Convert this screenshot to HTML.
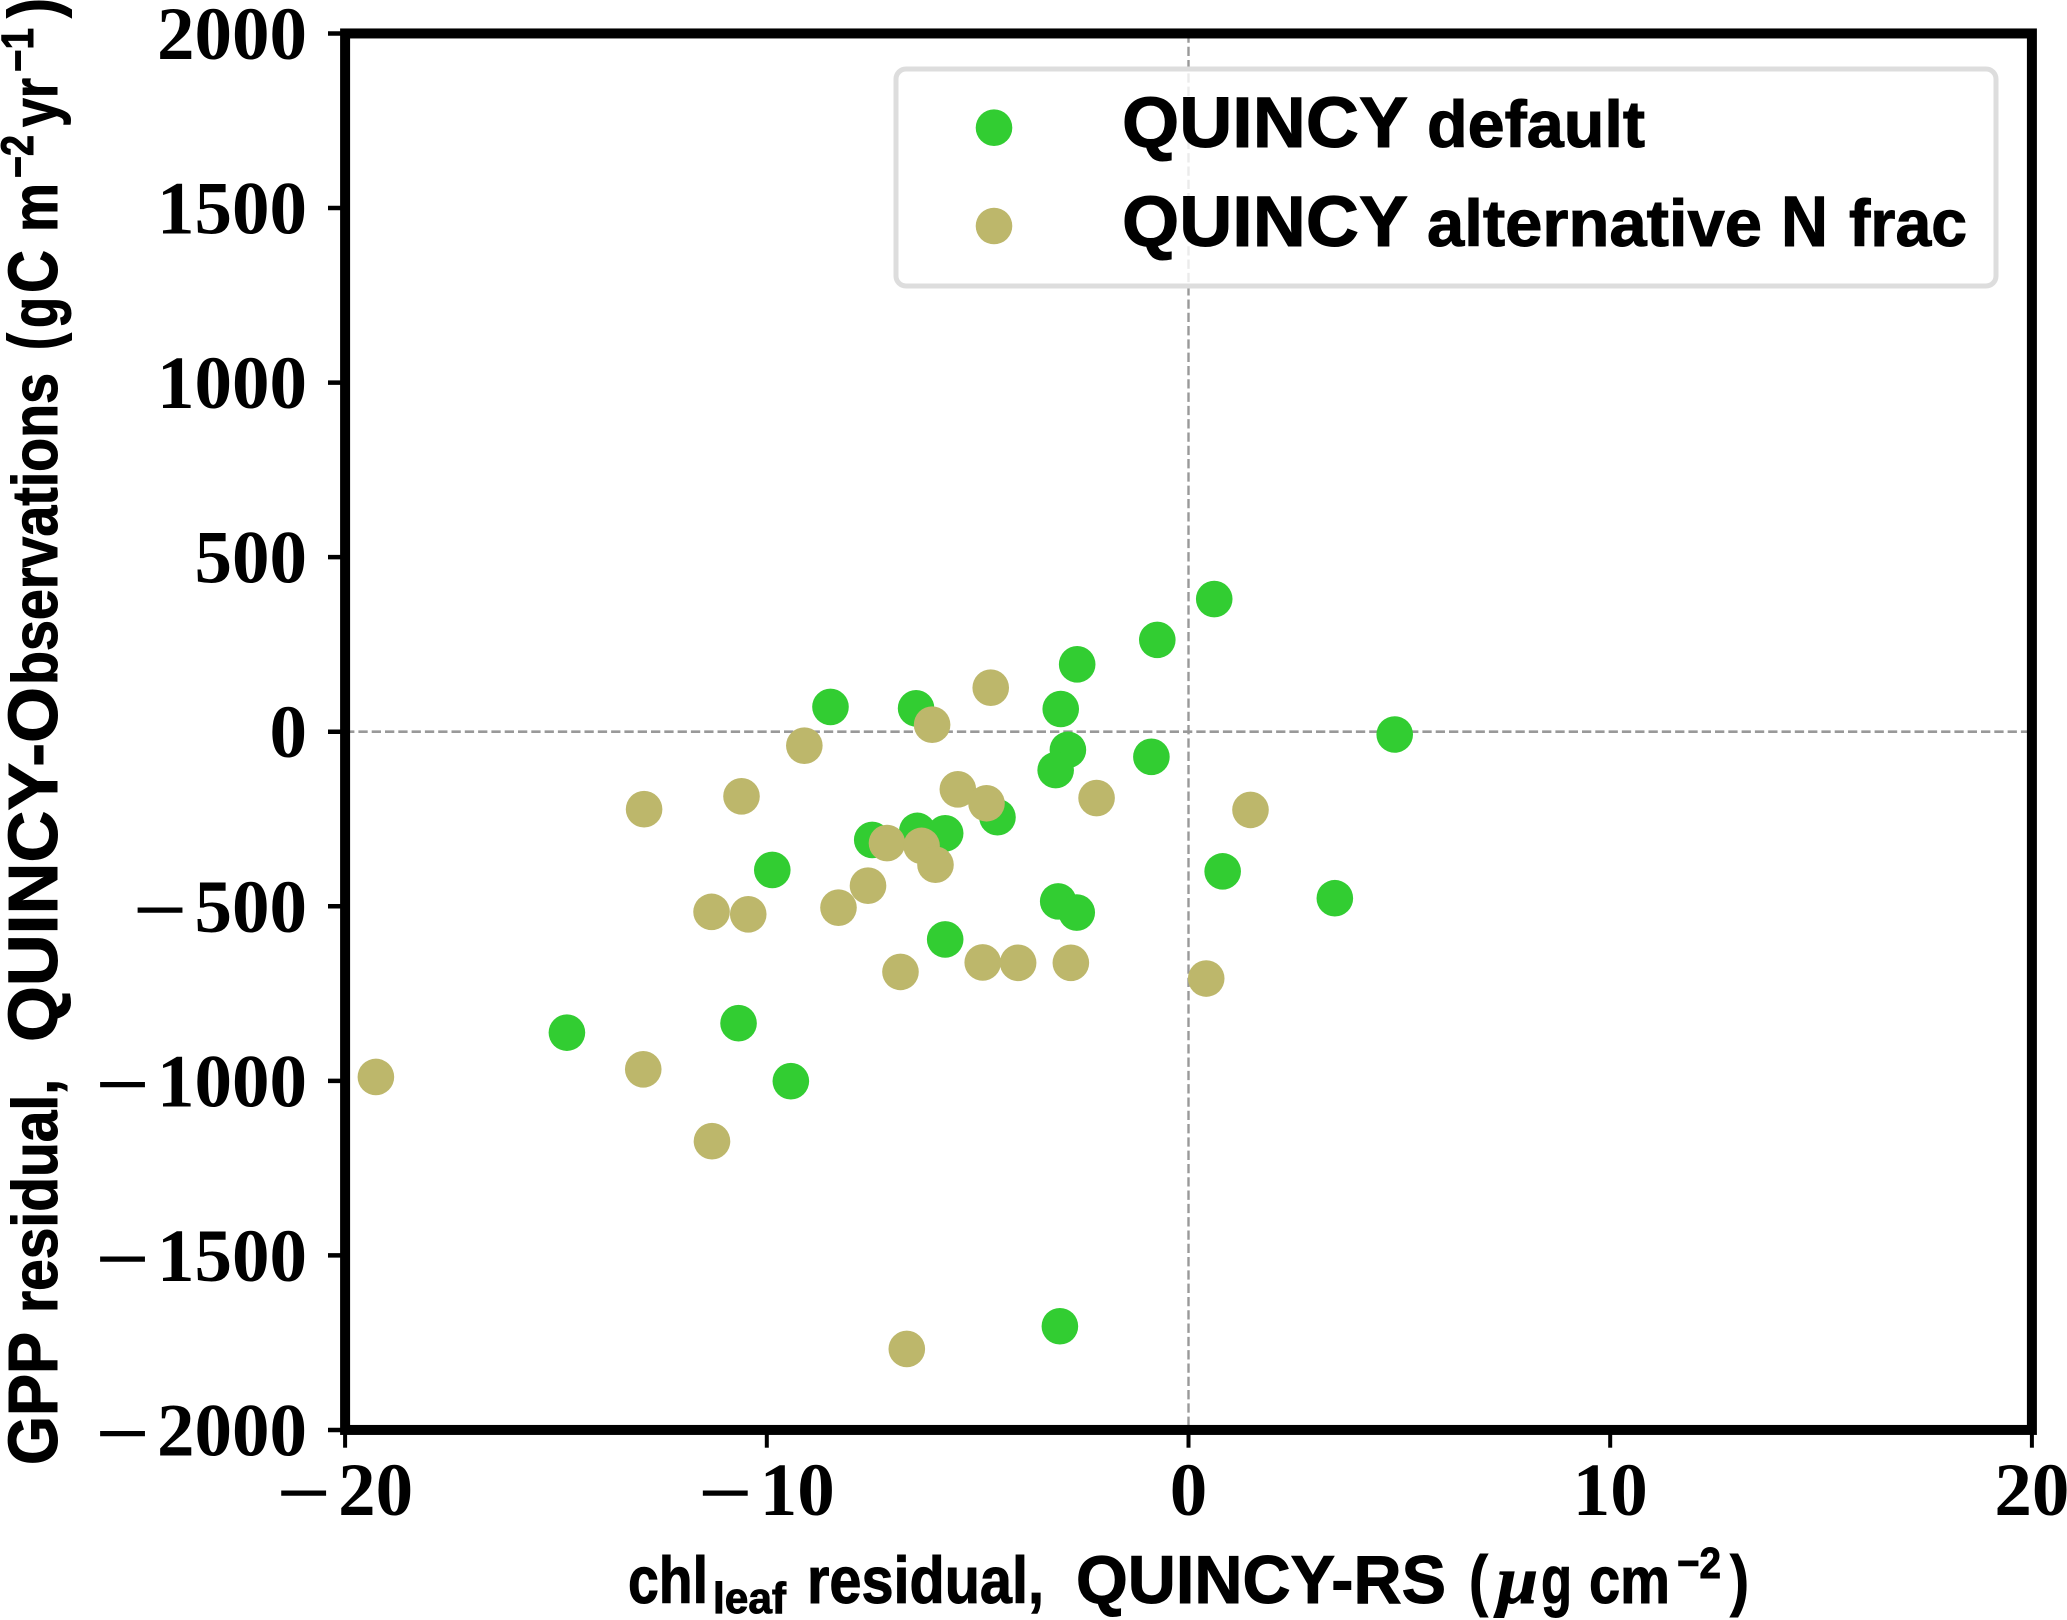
<!DOCTYPE html>
<html lang="en">
<head>
<meta charset="utf-8">
<title>GPP residual vs chlorophyll residual</title>
<style>
html,body{margin:0;padding:0;background:#fff;}
body{width:2067px;height:1620px;overflow:hidden;}
svg{display:block;}
.sans{font-family:"Liberation Sans",sans-serif;font-weight:bold;fill:#000;stroke:#000;stroke-width:1;}
.serif{font-family:"Liberation Serif",serif;font-weight:bold;fill:#000;}
</style>
</head>
<body>
<svg id="chart" xmlns="http://www.w3.org/2000/svg" width="2067" height="1620" viewBox="0 0 2067 1620">
  <rect x="0" y="0" width="2067" height="1620" fill="#fff"/>
  <g id="ref-lines"></g>
  <g id="series"></g>
  <g id="axes"></g>

  <g class="sans">
    <text transform="translate(57,1465) rotate(-90)" font-size="70" textLength="133" lengthAdjust="spacingAndGlyphs">GPP</text>
    <text transform="translate(57,1313) rotate(-90)" font-size="64" textLength="234" lengthAdjust="spacingAndGlyphs">residual,</text>
    <text transform="translate(57,1042) rotate(-90)" font-size="70" textLength="355" lengthAdjust="spacingAndGlyphs">QUINCY-O</text>
    <text transform="translate(57,685) rotate(-90)" font-size="64" textLength="312" lengthAdjust="spacingAndGlyphs">bservations</text>
    <text transform="translate(57,350) rotate(-90)" font-size="70" textLength="17" lengthAdjust="spacingAndGlyphs">(</text>
    <text transform="translate(57,328) rotate(-90)" font-size="66" textLength="31" lengthAdjust="spacingAndGlyphs">g</text>
    <text transform="translate(57,293) rotate(-90)" font-size="70" textLength="43" lengthAdjust="spacingAndGlyphs">C</text>
    <text transform="translate(57,232) rotate(-90)" font-size="64" textLength="49" lengthAdjust="spacingAndGlyphs">m</text>
    <text transform="translate(33,178) rotate(-90)" font-size="45" textLength="43" lengthAdjust="spacingAndGlyphs">−2</text>
    <text transform="translate(57,127) rotate(-90)" font-size="64" textLength="49" lengthAdjust="spacingAndGlyphs">yr</text>
    <text transform="translate(33,72) rotate(-90)" font-size="45" textLength="44" lengthAdjust="spacingAndGlyphs">−1</text>
    <text transform="translate(57,18) rotate(-90)" font-size="70" textLength="20" lengthAdjust="spacingAndGlyphs">)</text>
  </g>

  <g class="sans">
    <text x="628" y="1603" font-size="66" textLength="80" lengthAdjust="spacingAndGlyphs">chl</text>
    <text x="713" y="1613" font-size="44" textLength="73" lengthAdjust="spacingAndGlyphs">leaf</text>
    <text x="807" y="1603" font-size="66" textLength="237" lengthAdjust="spacingAndGlyphs">residual,</text>
    <text x="1076" y="1603" font-size="68" textLength="370" lengthAdjust="spacingAndGlyphs">QUINCY-RS</text>
    <text x="1469" y="1603" font-size="68" textLength="19" lengthAdjust="spacingAndGlyphs">(</text>
    <text x="1497" y="1603" font-size="68" textLength="41" lengthAdjust="spacingAndGlyphs" style="font-family:'Liberation Serif',serif;font-style:italic">μ</text>
    <text x="1541" y="1603" font-size="68" textLength="31" lengthAdjust="spacingAndGlyphs">g</text>
    <text x="1589" y="1603" font-size="66" textLength="81" lengthAdjust="spacingAndGlyphs">cm</text>
    <text x="1677" y="1578" font-size="44" textLength="44" lengthAdjust="spacingAndGlyphs">−2</text>
    <text x="1730" y="1603" font-size="68" textLength="19" lengthAdjust="spacingAndGlyphs">)</text>
  </g>

  <g>
    <rect x="896" y="69" width="1100" height="217" rx="10" ry="10" fill="#fff" fill-opacity="0.8" stroke="#ddd" stroke-width="5"/>
    <g>
      <circle cx="994" cy="127.7" r="18.3" fill="#32CD32"/>
      <g class="sans">
        <text x="1122" y="147" font-size="71" textLength="286" lengthAdjust="spacingAndGlyphs">QUINCY</text>
        <text x="1427" y="147" font-size="66" textLength="218" lengthAdjust="spacingAndGlyphs">default</text>
      </g>
    </g>
    <g>
      <circle cx="994" cy="226" r="18.3" fill="#BDB76B"/>
      <g class="sans">
        <text x="1122" y="246" font-size="71" textLength="286" lengthAdjust="spacingAndGlyphs">QUINCY</text>
        <text x="1427" y="246" font-size="66" textLength="335" lengthAdjust="spacingAndGlyphs">alternative</text>
        <text x="1781" y="246" font-size="71" textLength="47" lengthAdjust="spacingAndGlyphs">N</text>
        <text x="1849" y="246" font-size="66" textLength="118" lengthAdjust="spacingAndGlyphs">frac</text>
      </g>
    </g>
  </g>
</svg>

<script>
var xTicks = [-20, -10, 0, 10, 20];
var xTickLabels = ["−20", "−10", "0", "10", "20"];
var yTicks = [-2000, -1500, -1000, -500, 0, 500, 1000, 1500, 2000];
var yTickLabels = ["−2000", "−1500", "−1000", "−500", "0", "500", "1000", "1500", "2000"];

var defaultX = [0.61, -0.74, -2.64, -3.03, -2.86, -3.15, -0.88, -6.46, -4.53, -5.77, -6.43, -7.50, 0.81, 3.47, -3.09, -2.65, -5.77, -8.49, -9.87, -10.67, -14.74, 4.89, -9.43, -3.05];
var defaultY = [380, 263, 193, 65, -52, -110, -72, 67, -245, -291, -284, -310, -400, -477, -486, -518, -595, 71, -396, -835, -862, -8, -1001, -1703];
var altX = [-4.69, -6.08, -5.47, -4.79, -2.18, 1.47, -7.15, -6.33, -6.00, -7.60, -6.83, -4.88, -4.04, -2.79, 0.42, -9.11, -10.60, -12.91, -11.31, -10.44, -8.30, -19.27, -12.93, -11.30, -6.68];
var altY = [126, 20, -165, -205, -190, -224, -319, -327, -381, -441, -688, -661, -662, -662, -707, -40, -185, -222, -516, -523, -504, -989, -967, -1173, -1768];

var NS = "http://www.w3.org/2000/svg";
function sx(v) { return 1188.5 + v * 42.17; }
function sy(v) { return 731.7 - v * 0.34912; }
function mk(parent, tag, attrs) {
  var el = document.createElementNS(NS, tag);
  for (var k in attrs) el.setAttribute(k, attrs[k]);
  parent.appendChild(el);
  return el;
}

var refs = document.getElementById("ref-lines");
var hLine = mk(refs, "line", {x1: sx(-20), x2: sx(20), y1: sy(0), y2: sy(0), stroke: "#999", "stroke-width": 2.6, "stroke-dasharray": "9.3 4"});


var vLine = mk(refs, "line", {x1: sx(0), x2: sx(0), y1: sy(2000), y2: sy(-2000), stroke: "#999", "stroke-width": 2.4, "stroke-dasharray": "9.3 4"});



var series = document.getElementById("series");
defaultX.forEach(function (x, i) {
  var c = mk(series, "circle", {cx: sx(x), cy: sy(defaultY[i]), r: 18.3, fill: "#32CD32"});
  
  
});
altX.forEach(function (x, i) {
  var c = mk(series, "circle", {cx: sx(x), cy: sy(altY[i]), r: 18.3, fill: "#BDB76B"});
  
  
});

var DIGIT = 37.5;
var MINUS_ADV = 55;
var MINUS_GAP = 7;
function minusGlyph(parent, digitStart, baseline, name) {
  var m = mk(parent, "text", {x: digitStart - MINUS_GAP - MINUS_ADV, y: baseline + 3, "font-size": 75, "class": "serif", textLength: MINUS_ADV, lengthAdjust: "spacingAndGlyphs"});
  
  
  m.textContent = "−";
}

var axes = document.getElementById("axes");
xTicks.forEach(function (t, i) {
  var tick = mk(axes, "line", {x1: sx(t), x2: sx(t), y1: sy(-2000), y2: 1447.7, stroke: "#000", "stroke-width": 4});
  
  
  var raw = xTickLabels[i];
  var neg = raw.charAt(0) === "−";
  var digits = neg ? raw.slice(1) : raw;
  var lab;
  if (neg) {
    lab = mk(axes, "text", {x: sx(t) + 68, y: 1515, "font-size": 75, "text-anchor": "end", "class": "serif"});
    minusGlyph(axes, sx(t) + 68 - digits.length * DIGIT, 1515, 'x-tick-label-minus');
  } else {
    lab = mk(axes, "text", {x: sx(t), y: 1515, "font-size": 75, "text-anchor": "middle", "class": "serif"});
  }
  
  
  lab.textContent = digits;
});
yTicks.forEach(function (t, i) {
  var tick = mk(axes, "line", {x1: 328, x2: sx(-20), y1: sy(t), y2: sy(t), stroke: "#000", "stroke-width": 4.5});
  
  
  var raw = yTickLabels[i];
  var neg = raw.charAt(0) === "−";
  var digits = neg ? raw.slice(1) : raw;
  var lab = mk(axes, "text", {x: 307, y: sy(t) + 25.5, "font-size": 75, "text-anchor": "end", "class": "serif"});
  
  
  lab.textContent = digits;
  if (neg) minusGlyph(axes, 307 - digits.length * DIGIT, sy(t) + 25.5, 'y-tick-label-minus');
});
var frame = mk(axes, "rect", {x: sx(-20), y: sy(2000), width: sx(20) - sx(-20), height: sy(-2000) - sy(2000), fill: "none", stroke: "#000", "stroke-width": 10});


</script>
</body>
</html>
